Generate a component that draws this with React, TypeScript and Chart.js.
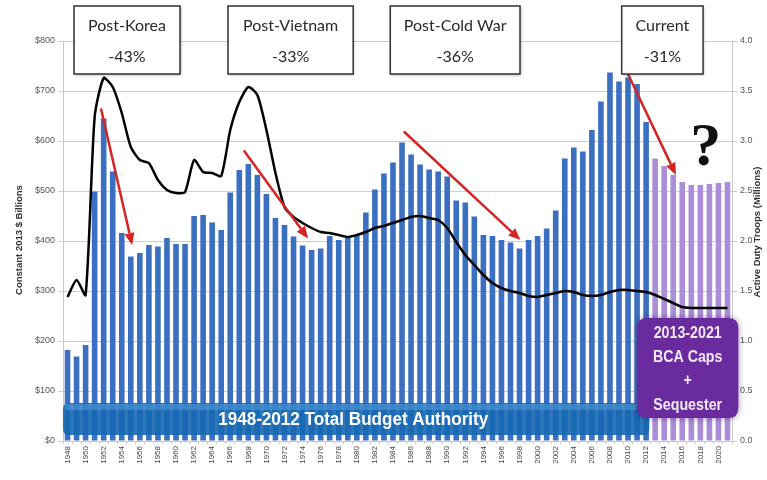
import { useEffect, useRef } from 'react';
import { Chart, registerables } from 'chart.js';
Chart.register(...registerables);

const years = ['1948','1949','1950','1951','1952','1953','1954','1955','1956','1957','1958','1959','1960','1961','1962','1963','1964','1965','1966','1967','1968','1969','1970','1971','1972','1973','1974','1975','1976','1977','1978','1979','1980','1981','1982','1983','1984','1985','1986','1987','1988','1989','1990','1991','1992','1993','1994','1995','1996','1997','1998','1999','2000','2001','2002','2003','2004','2005','2006','2007','2008','2009','2010','2011','2012','2013','2014','2015','2016','2017','2018','2019','2020','2021'];

// Constant 2013 $ Billions
const budget = [182,169,192,499,645,539,416,369,376,392,389,406,394,394,450,452,437,422,497,542,554,532,494,446,432,409,391,382,385,410,402,407,411,457,503,535,557,597,573,553,543,539,529,481,477,449,412,410,402,397,385,402,410,425,461,565,587,579,622,679,737,719,727,714,638,565,550,532,518,512,512,514,516,518];

// Active duty troops (millions)
const troops = [1.44,1.61,1.46,3.24,3.63,3.54,3.28,2.94,2.81,2.78,2.61,2.51,2.48,2.49,2.81,2.69,2.68,2.65,3.11,3.39,3.54,3.46,3.11,2.68,2.34,2.24,2.18,2.13,2.09,2.08,2.06,2.04,2.06,2.09,2.13,2.15,2.18,2.21,2.24,2.25,2.23,2.21,2.13,1.99,1.86,1.76,1.66,1.58,1.53,1.50,1.48,1.45,1.44,1.46,1.48,1.50,1.49,1.46,1.45,1.46,1.49,1.51,1.51,1.50,1.49,1.46,1.42,1.38,1.34,1.33,1.33,1.33,1.33,1.33];

const lastActualYear = '2012';

const periodNames = ['Post-Korea', 'Post-Vietnam', 'Post-Cold War', 'Current'];
const periodCuts = ['-43%', '-33%', '-36%', '-31%'];

const leftTitle = 'Constant 2013 $ Billions';
const rightTitle = 'Active Duty Troops (Millions)';
const bannerText = '1948-2012 Total Budget Authority';
const capsLines = ['2013-2021', 'BCA Caps', '+', 'Sequester'];

// decoration geometry, in category-index / value units
const boxSpans = [[0.72, 12.44], [17.75, 31.6], [35.7, 50.05], [61.3, 70.3]];
const arrows = [[3.7, 665, 7.15, 392], [19.5, 581, 26.6, 405], [37.2, 619, 50.1, 402], [61.6, 749, 67.3, 532]];

const BLUE = '#3b6fc1';
const PURPLE = '#ab8dd9';

function roundRect(ctx: CanvasRenderingContext2D, x: number, y: number, w: number, h: number, r: number) {
  ctx.beginPath();
  ctx.moveTo(x + r, y);
  ctx.lineTo(x + w - r, y);
  ctx.quadraticCurveTo(x + w, y, x + w, y + r);
  ctx.lineTo(x + w, y + h - r);
  ctx.quadraticCurveTo(x + w, y + h, x + w - r, y + h);
  ctx.lineTo(x + r, y + h);
  ctx.quadraticCurveTo(x, y + h, x, y + h - r);
  ctx.lineTo(x, y + r);
  ctx.quadraticCurveTo(x, y, x + r, y);
  ctx.closePath();
}

function fillScaled(ctx: CanvasRenderingContext2D, text: string, cx: number, cy: number, sx: number) {
  ctx.save();
  ctx.translate(cx, cy);
  ctx.scale(sx, 1);
  ctx.fillText(text, 0, 0);
  ctx.restore();
}

const decor = {
  id: 'decor',
  afterDatasetsDraw(chart: any) {
    const ctx: CanvasRenderingContext2D = chart.ctx;
    const x = chart.scales.x;
    const y = chart.scales.y;
    const area = chart.chartArea;
    ctx.save();

    // Banner
    const bx0 = area.left;
    const bx1 = x.getPixelForValue(64.35);
    const by0 = y.getPixelForValue(76);
    const by1 = y.getPixelForValue(12);
    roundRect(ctx, bx0, by0, bx1 - bx0, by1 - by0, 6);
    ctx.fillStyle = 'rgba(22,104,178,0.9)';
    ctx.fill();
    ctx.fillStyle = 'rgba(90,160,220,0.5)';
    ctx.fillRect(bx0 + 2, by0 + 1, bx1 - bx0 - 4, 6);
    ctx.fillStyle = '#ffffff';
    ctx.font = 'bold 18px "Liberation Sans", Arial, sans-serif';
    ctx.textAlign = 'center';
    ctx.textBaseline = 'middle';
    const bw = ctx.measureText(bannerText).width;
    fillScaled(ctx, bannerText, x.getPixelForValue(31.6), (by0 + by1) / 2 + 1, 270 / bw);

    // Purple caps box
    const px0 = x.getPixelForValue(63.0);
    const px1 = x.getPixelForValue(74.2);
    const py0 = y.getPixelForValue(246);
    const py1 = y.getPixelForValue(46);
    ctx.save();
    ctx.shadowColor = 'rgba(60,20,90,0.5)';
    ctx.shadowBlur = 6;
    roundRect(ctx, px0, py0, px1 - px0, py1 - py0, 10);
    ctx.fillStyle = '#6a2b9e';
    ctx.fill();
    ctx.restore();
    ctx.fillStyle = '#f1e9fa';
    ctx.font = 'bold 17px "Liberation Sans", Arial, sans-serif';
    const cw = ctx.measureText(capsLines[0]).width;
    const csx = 68 / cw;
    const pcx = (px0 + px1) / 2;
    const lineYs = [py0 + 15, py0 + 39, py0 + 62, py0 + 87];
    capsLines.forEach((t, i) => fillScaled(ctx, t, pcx, lineYs[i], csx));

    // Arrows
    ctx.strokeStyle = '#d42424';
    ctx.fillStyle = '#d42424';
    ctx.lineWidth = 2.5;
    arrows.forEach(([i0, v0, i1, v1]) => {
      const sx = x.getPixelForValue(i0), sy = y.getPixelForValue(v0);
      const ex = x.getPixelForValue(i1), ey = y.getPixelForValue(v1);
      const ang = Math.atan2(ey - sy, ex - sx);
      const hl = 12, hw = 5;
      const lx = ex - Math.cos(ang) * hl, ly = ey - Math.sin(ang) * hl;
      ctx.beginPath();
      ctx.moveTo(sx, sy);
      ctx.lineTo(lx, ly);
      ctx.stroke();
      ctx.beginPath();
      ctx.moveTo(ex, ey);
      ctx.lineTo(lx + Math.sin(ang) * hw, ly - Math.cos(ang) * hw);
      ctx.lineTo(lx - Math.sin(ang) * hw, ly + Math.cos(ang) * hw);
      ctx.closePath();
      ctx.fill();
    });

    // Period boxes
    const ty0 = y.getPixelForValue(870);
    const ty1 = y.getPixelForValue(734);
    boxSpans.forEach(([a, b], i) => {
      const l = x.getPixelForValue(a), r = x.getPixelForValue(b);
      ctx.save();
      ctx.shadowColor = 'rgba(0,0,0,0.35)';
      ctx.shadowBlur = 3;
      ctx.shadowOffsetX = 1;
      ctx.shadowOffsetY = 1;
      ctx.fillStyle = '#ffffff';
      ctx.fillRect(l, ty0, r - l, ty1 - ty0);
      ctx.restore();
      ctx.strokeStyle = '#3c3c3c';
      ctx.lineWidth = 1.6;
      ctx.strokeRect(l, ty0, r - l, ty1 - ty0);
      ctx.fillStyle = '#2a2a2a';
      ctx.font = '16px Lato, "Open Sans", sans-serif';
      ctx.textAlign = 'center';
      ctx.textBaseline = 'middle';
      const cx = (l + r) / 2;
      ctx.fillText(periodNames[i], cx, ty0 + 20);
      ctx.fillText(periodCuts[i], cx, ty0 + 51);
    });

    // Question mark
    ctx.fillStyle = '#111111';
    ctx.font = 'bold 62px "Liberation Serif", serif';
    ctx.textAlign = 'center';
    ctx.textBaseline = 'alphabetic';
    ctx.fillText('?', x.getPixelForValue(70.6), y.getPixelForValue(552));

    // Axis titles
    ctx.fillStyle = '#333333';
    ctx.font = 'bold 9.5px "Liberation Sans", Arial, sans-serif';
    ctx.textAlign = 'center';
    ctx.textBaseline = 'middle';
    ctx.save();
    ctx.translate(19, 240);
    ctx.rotate(-Math.PI / 2);
    ctx.fillText(leftTitle, 0, 0);
    ctx.restore();
    ctx.save();
    ctx.translate(757, 232);
    ctx.rotate(-Math.PI / 2);
    ctx.fillText(rightTitle, 0, 0);
    ctx.restore();

    ctx.restore();
  },
};

export default function App() {
  const ref = useRef<HTMLCanvasElement>(null);
  useEffect(() => {
    if (!ref.current) return;
    const lastIdx = years.indexOf(lastActualYear);
    const chart = new Chart(ref.current, {
      data: {
        labels: years,
        datasets: [
          {
            type: 'line',
            label: 'Troops',
            data: troops,
            yAxisID: 'y1',
            borderColor: '#000000',
            borderWidth: 2.5,
            pointRadius: 0,
            tension: 0.22,
            order: 0,
          },
          {
            type: 'bar',
            label: 'Budget',
            data: budget,
            yAxisID: 'y',
            backgroundColor: budget.map((_, i) => (i <= lastIdx ? BLUE : PURPLE)),
            barPercentage: 0.62,
            categoryPercentage: 1,
            order: 1,
          },
        ],
      } as any,
      options: {
        responsive: true,
        maintainAspectRatio: false,
        animation: false,
        layout: { padding: { top: 41, left: 0, right: 0, bottom: 0 } },
        plugins: { legend: { display: false }, tooltip: { enabled: false } },
        scales: {
          x: {
            offset: true,
            grid: { display: true, drawOnChartArea: false, drawTicks: true, tickLength: 3, color: '#c8c8c8', offset: true },
            border: { color: '#c8c8c8' },
            ticks: {
              autoSkip: false,
              minRotation: 90,
              maxRotation: 90,
              padding: 2,
              color: '#444',
              font: { size: 8, family: '"Liberation Sans", Arial, sans-serif' },
              callback: (_v: any, i: number) => (i % 2 === 0 ? years[i] : ''),
            },
            afterFit: (s: any) => { s.height = 39; },
          },
          y: {
            position: 'left',
            min: 0,
            max: 800,
            ticks: {
              stepSize: 100,
              color: '#555',
              padding: 3,
              font: { size: 9, family: '"Liberation Sans", Arial, sans-serif' },
              callback: (v: any) => '$' + v,
            },
            grid: { color: '#cfcfcf', tickLength: 5, lineWidth: 1 },
            border: { color: '#c8c8c8' },
            afterFit: (s: any) => { s.width = 63; },
          },
          y1: {
            position: 'right',
            min: 0,
            max: 4,
            ticks: {
              stepSize: 0.5,
              color: '#555',
              padding: 3,
              font: { size: 9, family: '"Liberation Sans", Arial, sans-serif' },
              callback: (v: any) => Number(v).toFixed(1),
            },
            grid: { drawOnChartArea: false, color: '#c8c8c8', tickLength: 5 },
            border: { color: '#c8c8c8' },
            afterFit: (s: any) => { s.width = 35; },
          },
        },
      },
      plugins: [decor],
    });
    return () => chart.destroy();
  }, []);
  return (
    <div style={{ position: 'fixed', left: 0, top: 0, width: 767, height: 480, background: '#fff' }}>
      <canvas ref={ref} />
    </div>
  );
}
